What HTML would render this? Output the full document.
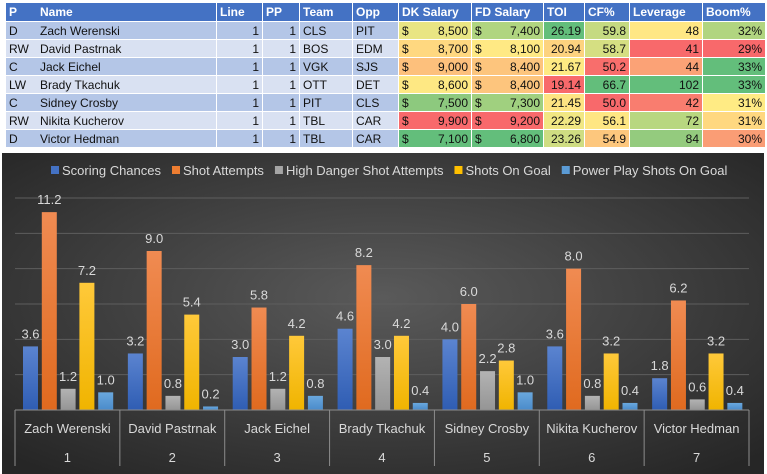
<!DOCTYPE html>
<html><head><meta charset="utf-8">
<style>
body{margin:0;width:767px;height:474px;background:#fff;overflow:hidden;font-family:"Liberation Sans",sans-serif;position:relative}
#tbl{position:absolute;left:0;top:0}
.c{position:absolute;box-sizing:border-box;font-size:12px;line-height:18px;color:#111;padding:0 3px;white-space:nowrap;overflow:hidden}
.h{background:#4472C4;color:#fff;font-weight:bold}
.r{text-align:right}
#chart{position:absolute;left:2px;top:153px}
</style></head><body>
<div id="tbl"></div>
<svg id="chart" width="762" height="321">
<defs>
<radialGradient id="bg" cx="50%" cy="45%" r="70%"><stop offset="0" stop-color="#5a5a5a"/><stop offset="1" stop-color="#262626"/></radialGradient>
<linearGradient id="g0" x1="0" y1="0" x2="0" y2="1"><stop offset="0" stop-color="#5b84d0"/><stop offset="1" stop-color="#2f5db3"/></linearGradient>
<linearGradient id="g1" x1="0" y1="0" x2="0" y2="1"><stop offset="0" stop-color="#f08b52"/><stop offset="1" stop-color="#e06a1f"/></linearGradient>
<linearGradient id="g2" x1="0" y1="0" x2="0" y2="1"><stop offset="0" stop-color="#b3b3b3"/><stop offset="1" stop-color="#959595"/></linearGradient>
<linearGradient id="g3" x1="0" y1="0" x2="0" y2="1"><stop offset="0" stop-color="#ffc93a"/><stop offset="1" stop-color="#f0b400"/></linearGradient>
<linearGradient id="g4" x1="0" y1="0" x2="0" y2="1"><stop offset="0" stop-color="#6aa8de"/><stop offset="1" stop-color="#4a8bca"/></linearGradient>
</defs>
<rect width="762" height="321" fill="url(#bg)"/>
<g id="plot"></g>
</svg>
<script>
// ---- table ----
const cols=[["P",6,31,0],["Name",37,179,0],["Line",217,45,1],["PP",263,36,1],["Team",300,52,0],["Opp",353,45,0],["DK Salary",399,72,2],["FD Salary",472,71,2],["TOI",544,40,1],["CF%",585,44,1],["Leverage",630,72,1],["Boom%",703,62,1]];
const rows=[
["D","Zach Werenski","1","1","CLS","PIT","8,500","7,400","26.19","59.8","48","32%"],
["RW","David Pastrnak","1","1","BOS","EDM","8,700","8,100","20.94","58.7","41","29%"],
["C","Jack Eichel","1","1","VGK","SJS","9,000","8,400","21.67","50.2","44","33%"],
["LW","Brady Tkachuk","1","1","OTT","DET","8,600","8,400","19.14","66.7","102","33%"],
["C","Sidney Crosby","1","1","PIT","CLS","7,500","7,300","21.45","50.0","42","31%"],
["RW","Nikita Kucherov","1","1","TBL","CAR","9,900","9,200","22.29","56.1","72","31%"],
["D","Victor Hedman","1","1","TBL","CAR","7,100","6,800","23.26","54.9","84","30%"]];
const heat=[
["#E9E583","#B0D580","#63BE7B","#C5DA81","#FFE784","#B1D580"],
["#FFD880","#FFE984","#FDD37F","#D5DF82","#F8696B","#F8696B"],
["#FDC07C","#FDC57D","#FEEA83","#F86E6C","#FBA276","#63BE7B"],
["#FEE883","#FDC57D","#F8696B","#63BE7B","#63BE7B","#63BE7B"],
["#8DC97E","#A0D07F","#FEE382","#F8696B","#F97D6F","#FFEB84"],
["#F8696B","#F8696B","#F1E783","#FEE683","#B8D780","#FFD880"],
["#63BE7B","#63BE7B","#CFDD82","#FDC77D","#94CB7E","#FA9D75"]];
const tbl=document.getElementById('tbl');
function cell(x,y,w,h,cls,bg,html){const d=document.createElement('div');d.className='c '+cls;d.style.cssText=`left:${x}px;top:${y}px;width:${w}px;height:${h}px;`+(bg?`background:${bg};`:'');d.innerHTML=html;tbl.appendChild(d);return d;}
cols.forEach(c=>{const d=cell(c[1],3,c[2],18,'h','', c[0]);

});
rows.forEach((r,i)=>{const y=22+i*18.0;const base=i%2?'#D9E1F2':'#B4C6E7';
cols.forEach((c,j)=>{const bg=j<6?base:heat[i][j-6];let html=r[j];
if(c[3]==2)html='<span style="float:left">$</span><span style="float:right">'+r[j]+'</span>';
const d=cell(c[1],y,c[2],17,c[3]==1?'r':'',bg,html);

});});

// ---- chart ----
const categories=["Zach Werenski","David Pastrnak","Jack Eichel","Brady Tkachuk","Sidney Crosby","Nikita Kucherov","Victor Hedman"];
const catNumbers=["1","2","3","4","5","6","7"];
const seriesNames=["Scoring Chances","Shot Attempts","High Danger Shot Attempts","Shots On Goal","Power Play Shots On Goal"];
const scoringChances=[3.6,3.2,3.0,4.6,4.0,3.6,1.8];
const shotAttempts=[11.2,9.0,5.8,8.2,6.0,8.0,6.2];
const highDanger=[1.2,0.8,1.2,3.0,2.2,0.8,0.6];
const shotsOnGoal=[7.2,5.4,4.2,4.2,2.8,3.2,3.2];
const ppShotsOnGoal=[1.0,0.2,0.8,0.4,1.0,0.4,0.4];
const yTicks=[0,2,4,6,8,10,12];
const series=[scoringChances,shotAttempts,highDanger,shotsOnGoal,ppShotsOnGoal];
const legendColors=["#4472C4","#ED7D31","#A5A5A5","#FFC000","#5B9BD5"];
const NS='http://www.w3.org/2000/svg';
const plot=document.getElementById('plot');
const X0=13,X1=747,Y0=257,YT=45;
const catW=(X1-X0)/categories.length;
const y=v=>Y0-(v/12)*(Y0-YT);
function el(t,a){const e=document.createElementNS(NS,t);for(const k in a)e.setAttribute(k,a[k]);plot.appendChild(e);return e;}
yTicks.forEach(t=>{if(t===0)return;const g=el('line',{x1:X0,x2:X1,y1:y(t),y2:y(t),stroke:'#5e5e5e','stroke-width':1});

});
series.forEach((s,si)=>{s.forEach((v,ci)=>{const bx=X0+ci*catW+8+si*18.8;
const b=el('rect',{x:bx,y:y(v),width:15,height:Y0-y(v),fill:'url(#g'+si+')'});


const t=el('text',{x:bx+7.5,y:y(v)-8,'text-anchor':'middle','font-size':13,fill:'#d9d9d9'});t.textContent=v.toFixed(1);

});});
const ax=el('line',{x1:X0,x2:X1,y1:Y0,y2:Y0,stroke:'#8c8c8c','stroke-width':1});


for(let i=0;i<=categories.length;i++){const xx=X0+i*catW;const d=el('line',{x1:xx,x2:xx,y1:Y0,y2:Y0+56,stroke:'#8c8c8c','stroke-width':1});

}
categories.forEach((c,i)=>{const cx=X0+(i+0.5)*catW;
const t=el('text',{x:cx,y:Y0+23,'text-anchor':'middle','font-size':13,fill:'#d9d9d9'});t.textContent=c;


const n=el('text',{x:cx,y:Y0+52,'text-anchor':'middle','font-size':13,fill:'#d9d9d9'});n.textContent=catNumbers[i];

});
let lx=49;
seriesNames.forEach((nm,i)=>{const sq=el('rect',{x:lx,y:13,width:8,height:8,fill:legendColors[i]});


const t=el('text',{x:lx+11,y:22,'font-size':13,fill:'#d9d9d9'});t.textContent=nm;


lx+=11+t.getComputedTextLength()+11;});
</script>
</body></html>
